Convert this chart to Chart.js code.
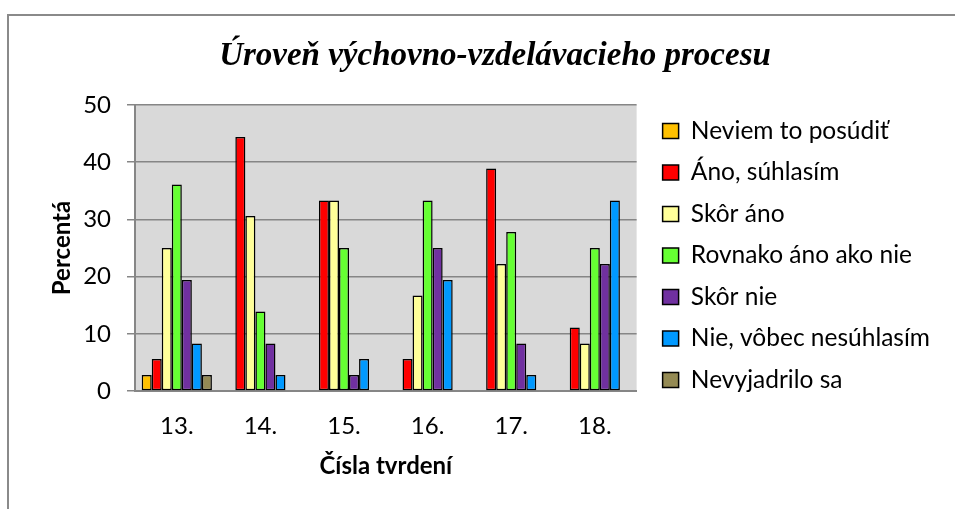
<!DOCTYPE html>
<html>
<head>
<meta charset="utf-8">
<script src="https://cdn.jsdelivr.net/npm/chart.js@4/dist/chart.umd.min.js"></script>
<style>
    body { margin: 0; background: #fff; }
    #wrap { position: relative; width: 955px; height: 509px; overflow: hidden; }
    #frame { position: absolute; left: 7px; top: 14px; width: 980px; height: 600px; border: 2px solid #8a8a8a; box-sizing: border-box; }
    #box { position: absolute; left: 0; top: 0; width: 955px; height: 509px; }
</style>
</head>
<body>
<div id="wrap">
    <div id="frame"></div>
    <div id="box"><canvas id="chart"></canvas></div>
</div>
<script>
let labels = ['13.', '14.', '15.', '16.', '17.', '18.'];
let yTicks = [0, 10, 20, 30, 40, 50];

let neviem = [2.8, 0, 0, 0, 0, 0];
let ano = [5.6, 44.4, 33.3, 5.6, 38.9, 11.1];
let skorAno = [25, 30.6, 33.3, 16.7, 22.2, 8.3];
let rovnako = [36.1, 13.9, 25, 33.3, 27.8, 25];
let skorNie = [19.4, 8.3, 2.8, 25, 8.3, 22.2];
let nieVobec = [8.3, 2.8, 5.6, 19.4, 2.8, 33.3];
let nevyjadrilo = [2.8, 0, 0, 0, 0, 0];

let seriesNames = ['Neviem to posúdiť', 'Áno, súhlasím', 'Skôr áno', 'Rovnako áno ako nie', 'Skôr nie', 'Nie, vôbec nesúhlasím', 'Nevyjadrilo sa'];
let seriesData = [neviem, ano, skorAno, rovnako, skorNie, nieVobec, nevyjadrilo];
let colors = ['#FFC000', '#FF0000', '#FFFF99', '#66FF33', '#7030A0', '#0099FF', '#948A54'];

let gridColor = '#868686';
let sans = 'Lato, "Open Sans", sans-serif';
let padL = 59, padR = 24;

// gray plot background
const plotBg = {
    id: 'plotBg',
    beforeDraw(chart) {
        let a = chart.chartArea;
        let ctx = chart.ctx;
        ctx.save();
        ctx.fillStyle = '#D9D9D9';
        ctx.fillRect(a.left, a.top, a.right - a.left, a.bottom - a.top);
        ctx.restore();
    }
};

// nudge the legend a bit to the right, like the original
const legendNudge = {
    id: 'legendNudge',
    afterLayout(chart) {
        chart.legend.left += 9;
        chart.legend.right += 9;
        chart.legend.top -= 4;
        chart.legend.bottom -= 4;
    }
};

let datasets = seriesNames.map((name, i) => ({
    label: name,
    data: seriesData[i],
    backgroundColor: colors[i],
    borderColor: '#000',
    borderWidth: 1.5,
    borderSkipped: false,
    categoryPercentage: 0.84,
    barPercentage: 1.0
}));

let ctx = document.getElementById('chart').getContext('2d');
let myChart = new Chart(ctx, {
    type: 'bar',
    data: { labels: labels, datasets: datasets },
    plugins: [plotBg, legendNudge],
    options: {
        responsive: true,
        maintainAspectRatio: false,
        animation: false,
        layout: { padding: { left: padL, right: padR, top: 20, bottom: 10 } },
        plugins: {
            tooltip: { enabled: false },
            title: {
                display: true,
                text: 'Úroveň výchovno-vzdelávacieho procesu',
                color: '#000',
                font: { family: '"Liberation Serif", "DejaVu Serif", serif', size: 33, style: 'italic', weight: 'bold' },
                padding: { top: 17, bottom: 28.4 }
            },
            legend: {
                display: true,
                position: 'right',
                align: 'center',
                maxWidth: 400,
                onClick: (e) => e.stopPropagation(),
                labels: {
                    color: '#000',
                    font: { family: sans, size: 24.5 },
                    boxWidth: 16,
                    boxHeight: 15,
                    padding: 17
                }
            }
        },
        scales: {
            x: {
                grid: { display: false },
                border: { display: true, color: gridColor, width: 2 },
                ticks: { color: '#000', font: { family: sans, size: 24 }, padding: 13 },
                title: {
                    display: true,
                    text: 'Čísla tvrdení',
                    color: '#000',
                    font: { family: sans, size: 24, weight: 'bold' },
                    padding: { top: 0, bottom: 18 }
                },
                afterFit: (scale) => { scale.height = 108; }
            },
            y: {
                min: 0,
                max: 50,
                grid: { color: gridColor, lineWidth: 1.5, drawTicks: true, tickLength: 8, tickColor: gridColor },
                border: { display: true, color: gridColor, width: 2 },
                afterBuildTicks: (scale) => { scale.ticks = yTicks.map(v => ({ value: v })); },
                ticks: { color: '#000', font: { family: sans, size: 24 }, padding: 16 },
                title: {
                    display: true,
                    text: 'Percentá',
                    color: '#000',
                    font: { family: sans, size: 24, weight: 'bold' },
                    padding: { top: 62 - padL - 14.4, bottom: 0 }
                },
                afterFit: (scale) => { scale.width = 135 - padL; }
            }
        }
    }
});
</script>
</body>
</html>
